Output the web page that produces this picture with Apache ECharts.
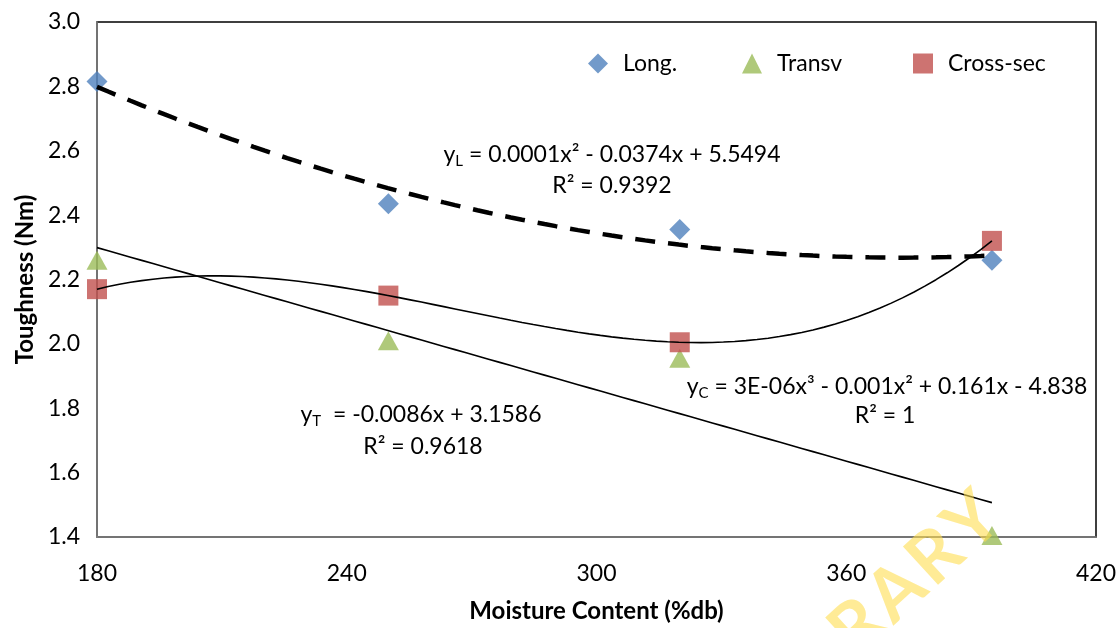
<!DOCTYPE html>
<html>
<head>
<meta charset="utf-8">
<script src="https://cdn.jsdelivr.net/npm/echarts@6/dist/echarts.min.js"></script>
<style>
  html, body { margin: 0; padding: 0; background: #fff; }
  #chart { width: 1120px; height: 628px; }
</style>
</head>
<body>
<div id="chart"></div>
<script>
// moisture content (%db) of the four samples
var moisture = [180, 250, 320, 395];
var longVals = [2.815, 2.435, 2.355, 2.26];
var transvVals = [2.26, 2.01, 1.955, 1.405];
var crossVals = [2.17, 2.15, 2.005, 2.32];

var xTicks = [180, 240, 300, 360, 420];
var yTicks = [1.4, 1.6, 1.8, 2.0, 2.2, 2.4, 2.6, 2.8, 3.0];

var FONT = 'Lato';

// least squares polynomial fit (same as excel trendline)
function polyFit(xs, ys, deg) {
  var n = deg + 1;
  var A = [];
  for (var i = 0; i < n; i++) {
    A.push([]);
    for (var j = 0; j <= n; j++) A[i].push(0);
  }
  xs.forEach(function (x, k) {
    var t = (x - 280) / 100;
    for (var i = 0; i < n; i++) {
      for (var j = 0; j < n; j++) A[i][j] += Math.pow(t, i + j);
      A[i][n] += ys[k] * Math.pow(t, i);
    }
  });
  for (var c = 0; c < n; c++) {
    var p = c;
    for (var r = c + 1; r < n; r++) if (Math.abs(A[r][c]) > Math.abs(A[p][c])) p = r;
    var tmp = A[c]; A[c] = A[p]; A[p] = tmp;
    for (var r2 = 0; r2 < n; r2++) {
      if (r2 === c) continue;
      var f = A[r2][c] / A[c][c];
      for (var j2 = c; j2 <= n; j2++) A[r2][j2] -= f * A[c][j2];
    }
  }
  var coef = [];
  for (var q = 0; q < n; q++) coef.push(A[q][n] / A[q][q]);
  return function (x) {
    var t = (x - 280) / 100, s = 0;
    for (var q = 0; q < n; q++) s += coef[q] * Math.pow(t, q);
    return s;
  };
}

function trend(ys, deg) {
  var fn = polyFit(moisture, ys, deg);
  var pts = [];
  var x0 = moisture[0], x1 = moisture[moisture.length - 1];
  for (var i = 0; i <= 80; i++) {
    var x = x0 + (x1 - x0) * i / 80;
    pts.push([x, fn(x)]);
  }
  return pts;
}

function pairs(ys) {
  return moisture.map(function (x, i) { return [x, ys[i]]; });
}

var myChart = echarts.init(document.getElementById('chart'));

var eqRich = {
  s: { fontFamily: FONT, fontSize: 15, color: '#000', verticalAlign: 'bottom', lineHeight: 15 },
  n: { fontFamily: FONT, fontSize: 23, color: '#000', lineHeight: 28 }
};

function eqText(x, y, str) {
  return {
    type: 'text', x: x, y: y, z: 100,
    style: {
      text: str, rich: eqRich, align: 'center', verticalAlign: 'middle',
      font: '23px ' + FONT, fill: '#000'
    }
  };
}

function legendAt(left, name, icon) {
  return {
    left: left, top: 47, data: [{ name: name, icon: icon }],
    itemWidth: 20, itemHeight: 20,
    textStyle: { fontFamily: FONT, fontSize: 23, color: '#000', padding: [0, 0, 0, 10] }
  };
}

var option = {
  backgroundColor: '#fff',
  animation: false,
  grid: {
    left: 97, right: 24, top: 22, bottom: 88,
    show: true, borderColor: '#000', borderWidth: 1.5
  },
  legend: [
    legendAt(583, 'Long.', 'diamond'),
    legendAt(737, 'Transv', 'triangle'),
    legendAt(908, 'Cross-sec', 'rect')
  ],
  xAxis: {
    type: 'value', min: xTicks[0], max: xTicks[xTicks.length - 1], interval: 60,
    name: 'Moisture Content (%db)', nameLocation: 'middle', nameGap: 62,
    nameTextStyle: { fontFamily: FONT, fontSize: 24, fontWeight: 'bold', color: '#000' },
    axisLine: { lineStyle: { color: '#868686', width: 1.5 } },
    axisTick: { show: false },
    splitLine: { show: false },
    axisLabel: { margin: 25, fontFamily: FONT, fontSize: 23, color: '#000' }
  },
  yAxis: {
    type: 'value', min: yTicks[0], max: yTicks[yTicks.length - 1], interval: 0.2,
    name: 'Toughness (Nm)', nameLocation: 'middle', nameGap: 60,
    nameTextStyle: { fontFamily: FONT, fontSize: 24, fontWeight: 'bold', color: '#000' },
    axisLine: { show: true, lineStyle: { color: '#868686', width: 1.5 } },
    axisTick: { show: false },
    splitLine: { show: false },
    axisLabel: {
      margin: 17, fontFamily: FONT, fontSize: 23, color: '#000',
      formatter: function (v) { return v.toFixed(1); }
    }
  },
  series: [
    {
      name: 'Long.', type: 'scatter', symbol: 'diamond', symbolSize: 21,
      itemStyle: { color: '#4F81BD' }, data: pairs(longVals), z: 2
    },
    {
      name: 'Transv', type: 'scatter', symbol: 'triangle', symbolSize: [21, 19],
      itemStyle: { color: '#9BBB59' }, data: pairs(transvVals), z: 2
    },
    {
      name: 'Cross-sec', type: 'scatter', symbol: 'rect', symbolSize: 20,
      itemStyle: { color: '#C0504D' }, data: pairs(crossVals), z: 2
    },
    {
      type: 'line', showSymbol: false, silent: true, z: 5,
      lineStyle: { color: '#000', width: 4.5, type: [20, 13] },
      data: trend(longVals, 2)
    },
    {
      type: 'line', showSymbol: false, silent: true, z: 5,
      lineStyle: { color: '#000', width: 1.6 },
      data: trend(transvVals, 1)
    },
    {
      type: 'line', showSymbol: false, silent: true, z: 5,
      lineStyle: { color: '#000', width: 1.6 },
      data: trend(crossVals, 3)
    }
  ],
  graphic: [
    eqText(612, 155, '{n|y}{s|L}{n| = 0.0001x² - 0.0374x + 5.5494}'),
    eqText(612, 186, '{n|R² = 0.9392}'),
    eqText(421, 415, '{n|y}{s|T}{n|  = -0.0086x + 3.1586}'),
    eqText(423, 447, '{n|R² = 0.9618}'),
    eqText(887, 387, '{n|y}{s|C}{n| = 3E-06x³ - 0.001x² + 0.161x - 4.838}'),
    eqText(885, 416, '{n|R² = 1}'),
    {
      // watermark, mostly cut off by the picture edge
      type: 'text', x: 990, y: 506, rotation: 0.74, z: 200, silent: true,
      style: {
        text: 'L\u200aI\u200aB\u200aR\u200aA\u200aR\u200aY', align: 'right', verticalAlign: 'middle',
        font: 'bold 72px ' + FONT, fill: 'rgba(255, 221, 80, 0.6)'
      }
    }
  ]
};

myChart.setOption(option);
</script>
</body>
</html>
